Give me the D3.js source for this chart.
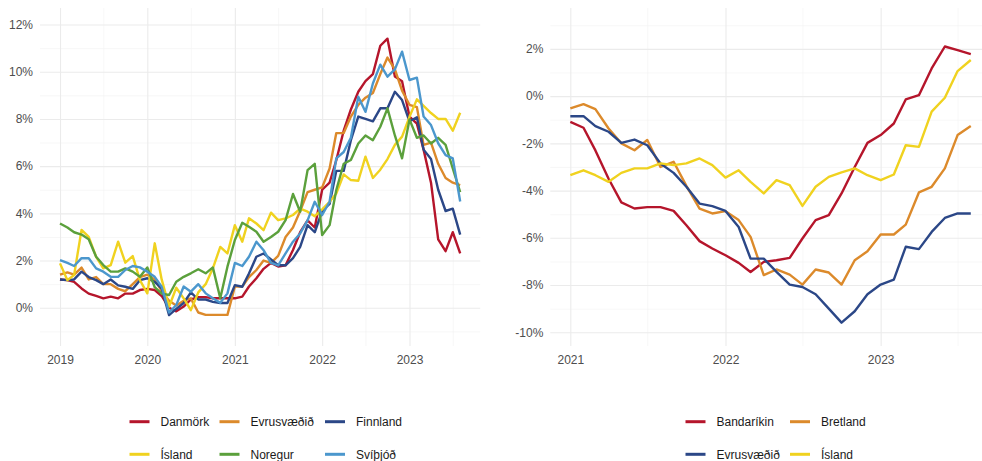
<!DOCTYPE html>
<html>
<head>
<meta charset="utf-8">
<script src="https://cdn.jsdelivr.net/npm/d3@7"></script>
<style>
  html, body { margin: 0; padding: 0; background: #fff; }
  svg { display: block; font-family: "Liberation Sans", Arial, sans-serif; }
  .grid-major line { stroke: #ebebeb; stroke-width: 1.1; }
  .grid-minor line { stroke: #f2f2f2; stroke-width: 0.6; }
  .grid-major text { fill: #4d4d4d; font-size: 12px; }
  .series-line { fill: none; stroke-width: 2.4; stroke-linejoin: round; stroke-linecap: butt; }
  .legend-label { fill: #1a1a1a; font-size: 12px; }
</style>
</head>
<body>
<svg id="chart" width="982" height="461"></svg>
<script>
// Left panel: monthly 12-month inflation, Jan 2019 - Aug 2023 (%)
const LEFT_START = '2019-01-01';
const LEFT_END = '2023-08-01';
const LEFT_NAMES = ['Danmörk', 'Evrusvæðið', 'Finnland', 'Ísland', 'Noregur', 'Svíþjóð'];
const LEFT_COLORS = ['#b5152b', '#dc8a2b', '#2b4787', '#f0d21f', '#5ba03c', '#4b97cd'];

const danmork = [
  1.2, 1.17, 1.1, 0.82, 0.6, 0.5, 0.4, 0.47, 0.4, 0.6, 0.6, 0.75,
  0.8, 0.75, 0.5, 0.0, -0.15, 0.05, 0.35, 0.45, 0.45, 0.4, 0.4, 0.4,
  0.4, 0.47, 0.9, 1.25, 1.65, 1.9, 1.75, 1.8, 2.45, 3.2, 3.7, 3.4,
  5.0, 5.3, 6.25, 7.5, 8.4, 9.15, 9.6, 9.9, 11.1, 11.4, 9.8, 9.6,
  8.1, 7.8, 6.7, 5.3, 2.9, 2.4, 3.2, 2.3
];
const evrusvaedid = [
  1.4, 1.5, 1.4, 1.7, 1.2, 1.3, 1.0, 1.0, 0.8, 0.7, 1.0, 1.3,
  1.4, 1.2, 0.7, 0.3, 0.1, 0.3, 0.4, -0.2, -0.3, -0.3, -0.3, -0.3,
  0.9, 0.9, 1.3, 1.6, 2.0, 1.9, 2.2, 3.0, 3.4, 4.1, 4.9, 5.0,
  5.1, 5.9, 7.4, 7.4, 8.1, 8.6, 8.9, 9.1, 9.9, 10.6, 10.1, 9.2,
  8.6, 8.5, 6.9, 7.0, 6.1, 5.5, 5.3, 5.2
];
const finnland = [
  1.2, 1.17, 1.2, 1.53, 1.3, 1.17, 1.0, 1.2, 0.95, 0.89, 0.8, 1.17,
  1.25, 1.1, 0.82, -0.31, -0.05, 0.2, 0.65, 0.35, 0.35, 0.25, 0.2, 0.2,
  0.96, 0.89, 1.45, 2.16, 2.3, 2.05, 1.8, 1.8, 2.1, 2.58, 3.5, 3.2,
  4.1, 4.4, 5.8, 5.8, 7.1, 8.1, 8.0, 7.9, 8.45, 8.45, 9.15, 8.8,
  7.9, 8.07, 6.7, 6.3, 5.0, 4.1, 4.2, 3.1
];
const island = [
  1.88, 1.17, 1.39, 3.3, 3.0, 2.16, 1.67, 1.81, 2.8, 1.91, 2.19, 1.17,
  0.61, 2.73, 1.2, 0.05, 0.85, 0.4, -0.1, 0.65, 1.0, 1.67, 2.58, 2.3,
  3.5, 2.8, 3.79, 3.57, 3.29, 4.03, 3.71, 3.79, 3.93, 4.2, 4.07, 3.88,
  4.17, 4.49, 4.84, 5.65, 5.41, 5.38, 6.4, 5.5, 5.85, 6.3, 6.9, 7.25,
  8.09, 8.83, 8.55, 8.25, 8.0, 8.0, 7.5, 8.26
];
const noregur = [
  3.57, 3.4, 3.2, 3.1, 2.9, 2.16, 1.81, 1.53, 1.53, 1.67, 1.53, 1.31,
  1.71, 0.87, 0.6, 0.54, 1.1, 1.31, 1.46, 1.63, 1.46, 1.71, 0.4, 1.74,
  2.87, 3.6, 3.43, 3.22, 2.8, 3.0, 3.22, 3.71, 4.82, 4.07, 5.83, 6.1,
  3.08, 3.5, 4.99, 6.1, 6.26, 6.96, 7.3, 7.1, 7.67, 8.45, 7.3, 6.33,
  7.98, 7.2, 7.3, 6.96, 7.2, 6.9, 5.9, 4.9
];
const svithjod = [
  2.02, 1.9, 1.77, 2.1, 2.1, 1.67, 1.53, 1.31, 1.31, 1.6, 1.77, 1.71,
  1.53, 1.31, 0.89, -0.2, 0.11, 0.9, 0.68, 1.0, 0.61, 0.4, 0.21, 0.61,
  1.9, 1.77, 2.16, 2.8, 2.44, 1.9, 1.8, 2.3, 2.8, 3.15, 3.7, 4.49,
  3.93, 4.49, 6.33, 6.6, 7.2, 8.94, 8.3, 9.5, 10.3, 9.79, 10.1, 10.85,
  9.65, 9.75, 8.1, 7.74, 6.97, 6.47, 6.33, 4.5
];

// Right panel: Jan 2021 - Aug 2023 (%)
const RIGHT_START = '2021-01-01';
const RIGHT_END = '2023-08-01';
const RIGHT_NAMES = ['Bandaríkin', 'Bretland', 'Evrusvæðið', 'Ísland'];
const RIGHT_COLORS = ['#b5152b', '#dc8a2b', '#2b4787', '#f0d21f'];

const bandarikin = [
  -1.09, -1.34, -2.3, -3.5, -4.5, -4.76, -4.7, -4.7, -4.86, -5.47, -6.14, -6.45,
  -6.74, -7.06, -7.45, -7.02, -6.95, -6.85, -6.03, -5.25, -5.04, -4.12, -3.0, -1.98,
  -1.65, -1.16, -0.14, 0.04, 1.17, 2.1, 1.95, 1.78
];
const bretland = [
  -0.52, -0.34, -0.55, -1.37, -2.0, -2.29, -1.86, -3.0, -2.78, -3.8, -4.76, -4.97,
  -4.87, -5.25, -5.96, -7.58, -7.34, -7.56, -7.98, -7.34, -7.47, -7.98, -6.95, -6.57,
  -5.86, -5.86, -5.44, -4.08, -3.84, -3.06, -1.65, -1.27
];
const evrusvaedidR = [
  -0.85, -0.85, -1.27, -1.51, -1.98, -1.84, -2.08, -2.85, -3.25, -3.84, -4.55, -4.66,
  -4.86, -5.54, -6.88, -6.88, -7.44, -7.98, -8.08, -8.39, -9.0, -9.59, -9.11, -8.39,
  -7.98, -7.77, -6.38, -6.48, -5.75, -5.16, -4.97, -4.97
];
const islandR = [
  -3.35, -3.14, -3.35, -3.63, -3.25, -3.06, -3.06, -2.85, -2.92, -2.85, -2.64, -2.92,
  -3.45, -3.14, -3.63, -4.12, -3.56, -3.77, -4.65, -3.84, -3.42, -3.23, -3.06, -3.35,
  -3.56, -3.32, -2.08, -2.15, -0.66, -0.07, 1.06, 1.53
];

const LEFT_SERIES = [danmork, evrusvaedid, finnland, island, noregur, svithjod];
const RIGHT_SERIES = [bandarikin, bretland, evrusvaedidR, islandR];

(function () {
  'use strict';

  const svg = d3.select('#chart');
  const parse = d3.utcParse('%Y-%m-%d');

  function months(start, end) {
    return d3.utcMonth.range(parse(start), d3.utcMonth.offset(parse(end), 1));
  }

  function drawPanel(cfg) {
    const dates = months(cfg.start, cfg.end);
    const t0 = dates[0], t1 = dates[dates.length - 1];
    const pad = (t1 - t0) * 0.05; // ggplot-style expansion

    const x = d3.scaleUtc()
      .domain([new Date(+t0 - pad), new Date(+t1 + pad)])
      .range([cfg.left, cfg.right]);
    const y = d3.scaleLinear()
      .domain(cfg.yDomain)
      .range([cfg.bottom, cfg.top]);

    const w = cfg.right - cfg.left;
    const h = cfg.bottom - cfg.top;
    const yLo = Math.ceil(cfg.yDomain[0]), yHi = Math.floor(cfg.yDomain[1]);
    const yAll = d3.range(yLo, yHi + 1);
    const yMajor = yAll.filter(v => v % 2 === 0);
    const yMinor = yAll.filter(v => Math.abs(v % 2) === 1);

    const xMajor = d3.utcYear.range(x.domain()[0], x.domain()[1]).map(d => d3.utcYear.ceil(d));
    const xMinor = d3.utcYear.range(d3.utcYear.floor(x.domain()[0]), x.domain()[1])
      .map(d => d3.utcMonth.offset(d, 6))
      .filter(d => d >= x.domain()[0] && d <= x.domain()[1]);

    const g = svg.append('g');

    // Minor grid
    g.append('g').attr('class', 'grid-minor')
      .attr('transform', `translate(${cfg.left},0)`)
      .call(d3.axisLeft(y).tickValues(yMinor).tickSize(-w).tickFormat(''))
      .call(s => s.select('.domain').remove());
    g.append('g').attr('class', 'grid-minor')
      .attr('transform', `translate(0,${cfg.bottom})`)
      .call(d3.axisBottom(x).tickValues(xMinor).tickSize(-h).tickFormat(''))
      .call(s => s.select('.domain').remove());

    // Major grid + labels
    g.append('g').attr('class', 'grid-major')
      .attr('transform', `translate(${cfg.left},0)`)
      .call(d3.axisLeft(y).tickValues(yMajor).tickSize(-w).tickPadding(7)
        .tickFormat(v => v + '%'))
      .call(s => s.select('.domain').remove());
    g.append('g').attr('class', 'grid-major')
      .attr('transform', `translate(0,${cfg.bottom})`)
      .call(d3.axisBottom(x).tickValues(xMajor).tickSize(-h).tickPadding(9)
        .tickFormat(d3.utcFormat('%Y')))
      .call(s => s.select('.domain').remove());

    // Lines
    const line = d3.line()
      .x(d => x(d.date))
      .y(d => y(d.value));

    cfg.series.forEach((values, i) => {
      const pts = values.map((v, k) => ({ date: dates[k], value: v }));
      g.append('path')
        .attr('class', 'series-line')
        .attr('stroke', cfg.colors[i])
        .attr('d', line(pts));
    });

    // Legend
    const lg = svg.append('g');
    cfg.names.forEach((name, i) => {
      const col = i % cfg.legendCols.length;
      const row = Math.floor(i / cfg.legendCols.length);
      const lx = cfg.legendCols[col];
      const ly = cfg.legendRows[row];
      lg.append('line')
        .attr('x1', lx).attr('x2', lx + 20)
        .attr('y1', ly).attr('y2', ly)
        .attr('stroke', cfg.colors[i])
        .attr('stroke-width', 3);
      lg.append('text')
        .attr('class', 'legend-label')
        .attr('x', lx + 31).attr('y', ly + 4.5)
        .text(name);
    });
  }

  drawPanel({
    start: LEFT_START, end: LEFT_END,
    left: 40, right: 480.2, top: 8, bottom: 346,
    yDomain: [-1.62, 12.7],
    series: LEFT_SERIES, names: LEFT_NAMES, colors: LEFT_COLORS,
    legendCols: [129.5, 219.5, 325], legendRows: [421.7, 454.3]
  });

  drawPanel({
    start: RIGHT_START, end: RIGHT_END,
    left: 550.3, right: 990.8, top: 8, bottom: 346,
    yDomain: [-10.58, 3.73],
    series: RIGHT_SERIES, names: RIGHT_NAMES, colors: RIGHT_COLORS,
    legendCols: [685.5, 790], legendRows: [421.7, 454.3]
  });
})();
</script>
</body>
</html>
